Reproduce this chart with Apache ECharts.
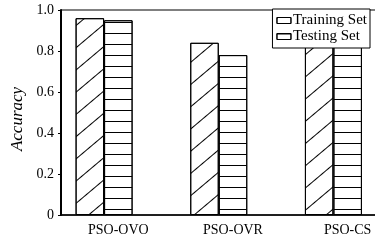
<!DOCTYPE html>
<html>
<head>
<meta charset="utf-8">
<script src="https://cdn.jsdelivr.net/npm/echarts@6/dist/echarts.min.js"></script>
<style>
  html, body { margin: 0; padding: 0; background: #fff; }
  #chart { width: 375px; height: 240px; }
</style>
</head>
<body>
<div id="chart"></div>
<script>
// data
const categories = ['PSO-OVO', 'PSO-OVR', 'PSO-CS']
const trainingAcc = [0.96, 0.84, 0.93]
const testingAcc = [0.95, 0.78, 0.92]
const seriesNames = ['Training Set', 'Testing Set']

const serif = "'Liberation Serif', 'DejaVu Serif', serif"

const chart = echarts.init(document.getElementById('chart'))

const barBase = {
  type: 'bar',
  barWidth: 28.5,
  barGap: '0%',
  itemStyle: { color: '#fff', borderColor: '#000', borderWidth: 1 }
}

const option = {
  animation: false,
  grid: {
    left: 61,
    top: 10,
    width: 344,
    height: 205,
    outerBoundsMode: 'none',
    show: true,
    borderColor: '#000',
    borderWidth: 1,
    backgroundColor: 'transparent'
  },
  legend: {
    orient: 'vertical',
    right: 5,
    top: 9,
    data: seriesNames,
    icon: 'rect',
    itemWidth: 14,
    itemHeight: 6,
    itemGap: 1,
    padding: [4, 3, 4, 4],
    backgroundColor: '#fff',
    borderColor: '#000',
    borderWidth: 1,
    itemStyle: { color: '#fff', borderColor: '#000', borderWidth: 1 },
    textStyle: { fontFamily: serif, fontSize: 15, color: '#000', lineHeight: 11, padding: [0, 0, 0, -3] }
  },
  xAxis: {
    type: 'category',
    data: categories,
    axisLine: { lineStyle: { color: '#000', width: 1.5 } },
    axisTick: { alignWithLabel: true, length: 3, lineStyle: { color: '#000' } },
    axisLabel: { fontFamily: serif, fontSize: 14, color: '#000', margin: 8 }
  },
  yAxis: {
    type: 'value',
    min: 0,
    max: 1,
    interval: 0.2,
    name: 'Accuracy',
    nameLocation: 'middle',
    nameGap: 35,
    nameTextStyle: { fontFamily: serif, fontStyle: 'italic', fontSize: 17, color: '#000', padding: [0, 13, 0, 0] },
    splitLine: { show: false },
    axisLine: { show: true, lineStyle: { color: '#000', width: 2 } },
    axisTick: { show: true, length: 3, lineStyle: { color: '#000' } },
    axisLabel: {
      fontFamily: serif, fontSize: 14, color: '#000', margin: 7,
      formatter: v => (v === 0 ? '0' : v.toFixed(1))
    }
  },
  series: [
    Object.assign({}, barBase, {
      name: seriesNames[0],
      data: trainingAcc,
      itemStyle: Object.assign({}, barBase.itemStyle, {
        decal: { symbol: 'rect', symbolSize: 1, color: '#000', dashArrayX: [[8, 0]], dashArrayY: [1, 16], rotation: -0.7 }
      })
    }),
    Object.assign({}, barBase, {
      name: seriesNames[1],
      data: testingAcc,
      itemStyle: Object.assign({}, barBase.itemStyle, {
        decal: { symbol: 'rect', symbolSize: 1, color: '#000', dashArrayX: [[8, 0]], dashArrayY: [1, 10] }
      })
    }),
    // empty slot so the testing bar sits on the tick, as in the figure
    Object.assign({}, barBase, { name: 'spacer', data: [] })
  ]
}

chart.setOption(option)
</script>
</body>
</html>
